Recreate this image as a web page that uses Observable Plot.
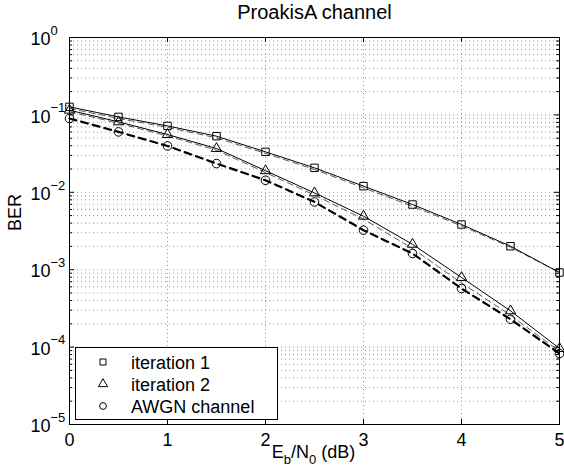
<!DOCTYPE html>
<html><head><meta charset="utf-8">
<script src="https://cdn.jsdelivr.net/npm/d3@7"></script>
<script src="https://cdn.jsdelivr.net/npm/@observablehq/plot@0.6"></script>
<style>
body{margin:0;background:#fff}
svg{font-family:"Liberation Sans",Arial,Helvetica,sans-serif}
</style>
</head><body><div id="chart"></div>
<script>
// ---- data ----
const ebno = [0, 0.5, 1, 1.5, 2, 2.5, 3, 3.5, 4, 4.5, 5];
const iter1 = [0.127, 0.0942, 0.0721, 0.0531, 0.0333, 0.0207, 0.0120, 0.00695, 0.00384, 0.00201, 0.00092];
const iter2 = [0.115, 0.0813, 0.0558, 0.0368, 0.0190, 0.00982, 0.00491, 0.00213, 0.000793, 0.000294, 0.0000959];
const awgn  = [0.0898, 0.0603, 0.0397, 0.0235, 0.0143, 0.00751, 0.00324, 0.00162, 0.000571, 0.000229, 0.0000826];
const iter1Ref = [0.121, 0.090, 0.069, 0.0505, 0.0318, 0.0197, 0.0114, 0.0066, 0.00368, 0.00195, 0.00092];
const iter2Ref = [0.110, 0.078, 0.0535, 0.035, 0.0180, 0.0092, 0.0045, 0.00188, 0.000675, 0.000258, 0.000088];
const xTicks = [0, 1, 2, 3, 4, 5];
const yDecades = [1e-5, 1e-4, 1e-3, 1e-2, 1e-1, 1];
const minorMult = [2, 3, 4, 5, 6, 7, 8, 9];
const legendLabels = ["iteration 1", "iteration 2", "AWGN channel"];
const legendSymbols = ["square", "triangle", "circle"];
const titleText = "ProakisA channel";
const yLabel = "BER";
const xLabelParts = [["E", ""], ["b", "sub"], ["/N", ""], ["0", "sub"], [" (dB)", ""]];

// ---- layout ----
const W = 564, H = 475, mL = 69, mR = 5, mT = 37, mB = 51;
const pw = W - mL - mR, ph = H - mT - mB;
const FS = 18;

const yMinor = yDecades.slice(0, -1).flatMap(d => minorMult.map(k => k * d));
const rows = (ys) => ebno.map((x, i) => ({x, y: ys[i]}));
const gridStyle = {stroke: "#999", strokeWidth: 1, strokeDasharray: "1,3"};

const plot = Plot.plot({
  width: W, height: H,
  marginLeft: mL, marginRight: mR, marginTop: mT, marginBottom: mB,
  style: {fontFamily: '"Liberation Sans",Arial,sans-serif', fontSize: FS + "px", background: "white", color: "black", overflow: "visible"},
  x: {domain: [0, 5], label: null},
  y: {type: "log", domain: [1e-5, 1], axis: null, label: null},
  marks: [
    Plot.ruleY(yMinor, gridStyle),
    Plot.ruleY(yDecades, gridStyle),
    Plot.ruleX(xTicks, gridStyle),
    // inward ticks
    Plot.tickY(yDecades, {y: d => d, stroke: "black", insetRight: pw - 5}),
    Plot.tickY(yDecades, {y: d => d, stroke: "black", insetLeft: pw - 5}),
    Plot.tickY(yMinor, {y: d => d, stroke: "black", insetRight: pw - 3}),
    Plot.tickY(yMinor, {y: d => d, stroke: "black", insetLeft: pw - 3}),
    Plot.tickX(xTicks, {x: d => d, stroke: "black", insetTop: ph - 5}),
    Plot.tickX(xTicks, {x: d => d, stroke: "black", insetBottom: ph - 5}),
    // thin dashed companion curves
    Plot.line(rows(iter1Ref), {x: "x", y: "y", stroke: "#333", strokeWidth: 0.8, strokeDasharray: "6,4"}),
    Plot.line(rows(iter2Ref), {x: "x", y: "y", stroke: "#333", strokeWidth: 0.8, strokeDasharray: "6,4"}),
    // main curves
    Plot.line(rows(iter1), {x: "x", y: "y", stroke: "black", strokeWidth: 1}),
    Plot.line(rows(iter2), {x: "x", y: "y", stroke: "black", strokeWidth: 1}),
    Plot.line(rows(awgn), {x: "x", y: "y", stroke: "black", strokeWidth: 2.2, strokeDasharray: "7,5"}),
    Plot.dot(rows(iter1), {x: "x", y: "y", symbol: "square", r: 4.2, fill: "none", stroke: "black", strokeWidth: 1}),
    Plot.dot(rows(iter2), {x: "x", y: "y", symbol: "triangle", r: 3.8, fill: "none", stroke: "black", strokeWidth: 1}),
    Plot.dot(rows(awgn), {x: "x", y: "y", symbol: "circle", r: 4.3, fill: "none", stroke: "black", strokeWidth: 1}),
    Plot.frame({stroke: "black", strokeWidth: 1}),
    Plot.axisX({ticks: xTicks, tickSize: 0, tickPadding: 9, fontSize: FS, label: null, tickFormat: d3.format("d")}),
    Plot.text(yDecades, {y: d => d, text: d => `10^${Math.round(Math.log10(d))}`, frameAnchor: "left", textAnchor: "start", dx: -39, dy: 2, fontSize: FS}),
    Plot.text([titleText], {frameAnchor: "top", lineAnchor: "bottom", dy: -19, fontSize: 20}),
    Plot.text([yLabel], {frameAnchor: "left", dx: -54, rotate: -90, fontSize: FS}),
    Plot.text([xLabelParts.map(p => p[0]).join("")], {frameAnchor: "bottom", lineAnchor: "bottom", dy: 33, dx: -1, fontSize: FS})
  ]
});

const svg = d3.select(plot);
const xLabelStr = xLabelParts.map(p => p[0]).join("");
// superscript exponents on y tick labels
svg.selectAll("text").filter(function () { return this.textContent.includes("^"); }).each(function () {
  const [b, e] = this.textContent.split("^");
  const t = d3.select(this);
  t.text(b);
  t.append("tspan").attr("dy", -10.5).attr("font-size", 13).text(e.replace("-", "\u2212"));
});
// subscripts on x label
svg.selectAll("text").filter(function () { return this.textContent === xLabelStr; }).each(function () {
  const t = d3.select(this);
  t.text("");
  let prev = "";
  xLabelParts.forEach(([s, k]) => {
    const ts = t.append("tspan").text(s);
    if (k === "sub") { ts.attr("font-size", 13).attr("dy", 6); }
    else if (prev === "sub") { ts.attr("dy", -6); }
    prev = k;
  });
});
// legend
const lg = svg.append("g").attr("aria-label", "legend");
lg.append("rect").attr("x", 75.5).attr("y", 347.5).attr("width", 202).attr("height", 72)
  .attr("fill", "white").attr("stroke", "black");
const symMap = {square: d3.symbolSquare, triangle: d3.symbolTriangle, circle: d3.symbolCircle};
legendLabels.forEach((lab, i) => {
  const cy = 362 + i * 22;
  lg.append("path").attr("transform", `translate(103,${cy})`)
    .attr("d", d3.symbol(symMap[legendSymbols[i]], Math.PI * 3.4 * 3.4)())
    .attr("fill", "none").attr("stroke", "black");
  lg.append("text").attr("x", 131).attr("y", cy + 6.5).attr("font-size", FS)
    .attr("text-anchor", "start").text(lab);
});
document.getElementById("chart").appendChild(plot);
</script>
</body></html>
